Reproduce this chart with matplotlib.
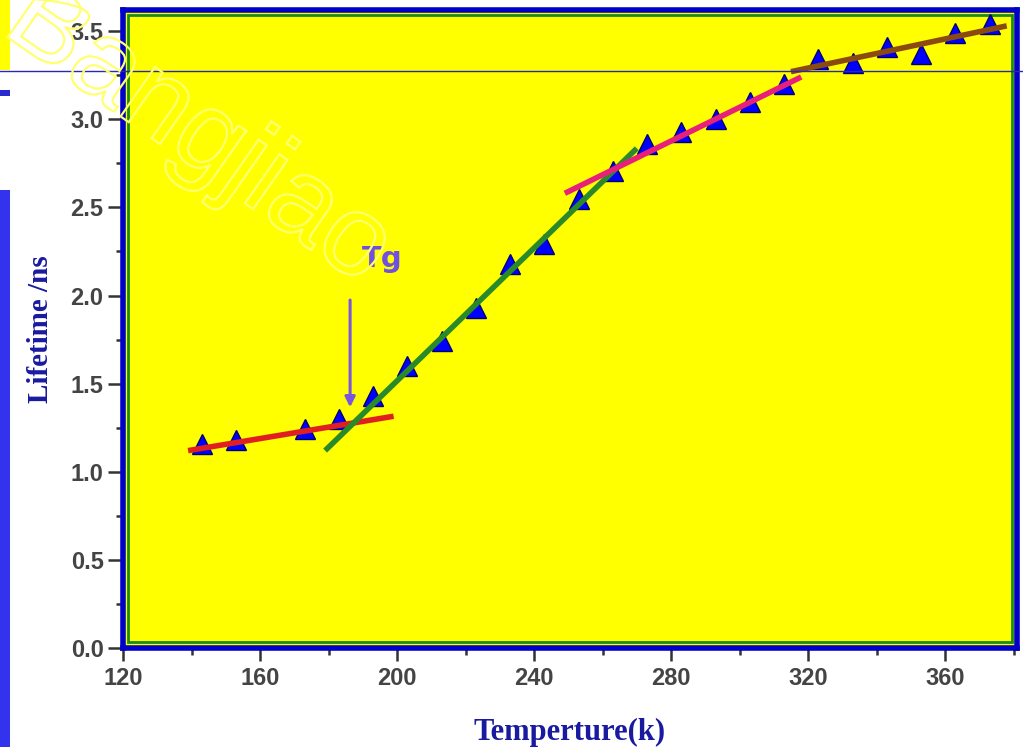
import matplotlib.pyplot as plt
from matplotlib import patheffects
from matplotlib.patches import Rectangle
from matplotlib.ticker import MultipleLocator

# lifetime measurements
temps = [143, 153, 173, 183, 193, 203, 213, 223, 233, 243, 253, 263,
         273, 283, 293, 303, 313, 323, 333, 343, 353, 363, 373]
lifetime = [1.16, 1.18, 1.245, 1.30, 1.43, 1.60, 1.74, 1.93, 2.18, 2.29, 2.55, 2.705,
            2.86, 2.93, 3.00, 3.10, 3.20, 3.34, 3.32, 3.41, 3.37, 3.49, 3.54]

# linear fits over each region (end points)
fit_low_t = [139, 199]
fit_low_y = [1.12, 1.315]
fit_mid_t = [179, 270]
fit_mid_y = [1.12, 2.835]
fit_high_t = [249, 318]
fit_high_y = [2.58, 3.24]
fit_top_t = [315, 378]
fit_top_y = [3.27, 3.53]

tg_t = 186.3
tg_arrow_y = [1.99, 1.35]

fig = plt.figure(figsize=(10.23, 7.47), dpi=100)
fig.patch.set_facecolor('white')

# strip on the left edge
fig.add_artist(Rectangle((0, 1 - 70 / 747), 10 / 1023, 70 / 747, transform=fig.transFigure,
                         facecolor='#ffff00', edgecolor='none'))
fig.add_artist(Rectangle((0, 1 - 96 / 747), 10 / 1023, 6 / 747, transform=fig.transFigure,
                         facecolor='#2a2ad0', edgecolor='none'))
fig.add_artist(Rectangle((0, 0), 10 / 1023, 1 - 190 / 747, transform=fig.transFigure,
                         facecolor='#3333ee', edgecolor='none'))

ax = fig.add_axes([123 / 1023, (747 - 648) / 747, (1017 - 123) / 1023, (648 - 10) / 747])
ax.set_facecolor('#ffff00')

ax.plot(temps, lifetime, linestyle='none', marker='^', markersize=14,
        markerfacecolor='#0000ff', markeredgecolor='#000070', markeredgewidth=1, zorder=3)

ax.plot(fit_low_t, fit_low_y, color='#e02020', lw=4, solid_capstyle='butt', zorder=4)
ax.plot(fit_mid_t, fit_mid_y, color='#2a8a2a', lw=4, solid_capstyle='butt', zorder=4)
ax.plot(fit_high_t, fit_high_y, color='#e8207a', lw=4, solid_capstyle='butt', zorder=4)
ax.plot(fit_top_t, fit_top_y, color='#8b4a10', lw=4, solid_capstyle='butt', zorder=4)

ax.annotate('', xy=(tg_t, tg_arrow_y[1]), xytext=(tg_t, tg_arrow_y[0]),
            arrowprops=dict(arrowstyle='-|>', color='#7a55e0', lw=2.2, mutation_scale=15),
            zorder=5)
ax.text(195.6, 2.21, 'Tg', color='#7050e0', fontsize=21, fontweight='bold',
        ha='center', va='center', zorder=5)

ax.set_xlim(120, 381)
ax.set_ylim(0, 3.62)
ax.xaxis.set_major_locator(MultipleLocator(40))
ax.xaxis.set_minor_locator(MultipleLocator(20))
ax.yaxis.set_major_locator(MultipleLocator(0.5))
ax.yaxis.set_minor_locator(MultipleLocator(0.25))
ax.yaxis.set_major_formatter(plt.FormatStrFormatter('%.1f'))

for s in ax.spines.values():
    s.set_color('#0000c8')
    s.set_linewidth(4)

# thin green inner frame
ax.add_patch(Rectangle((0.006, 0.01), 0.988, 0.982, transform=ax.transAxes,
                       fill=False, edgecolor='#1a8a1a', lw=2, zorder=2))

ax.tick_params(which='major', direction='out', length=11, width=1.8, color='#333333',
               labelsize=17, labelcolor='#444444', pad=3)
ax.tick_params(which='minor', direction='out', length=5, width=1.8, color='#333333')
ax.tick_params(axis='x', which='major', length=9, pad=5)
for lab in ax.get_xticklabels() + ax.get_yticklabels():
    lab.set_fontfamily('Liberation Sans')
    lab.set_fontweight('bold')

ax.set_xlabel('Temperture(k)', fontfamily='Liberation Serif', fontweight='bold',
              fontsize=22, color='#1a1aa0', labelpad=20)
ax.set_ylabel('Lifetime /ns', fontfamily='Liberation Serif', fontweight='bold',
              fontsize=21, color='#1a1aa0', labelpad=12)

# thin rule across the top
fig.add_artist(plt.Line2D([0, 1], [1 - 71 / 747, 1 - 71 / 747], transform=fig.transFigure,
                          color='#2828b0', lw=1, zorder=10))

# outlined watermark
fig.text(0.0, 1 - 32 / 747, 'Bangjiao', fontsize=82, rotation=-35, rotation_mode='anchor',
         fontfamily='Liberation Sans', ha='left', va='baseline', color='none', zorder=11,
         path_effects=[patheffects.PathPatchEffect(edgecolor='#ffff70', facecolor='none',
                                                    linewidth=1.6)])

fig.savefig('out.png', dpi=100)
